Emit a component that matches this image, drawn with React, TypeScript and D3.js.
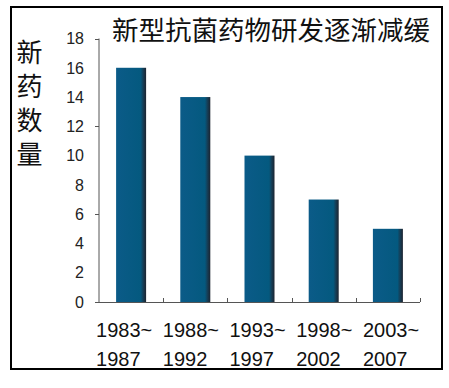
import React, { useEffect, useRef } from 'react';
import * as d3 from 'd3';

// chart data
const periodStarts: string[] = ['1983~', '1988~', '1993~', '1998~', '2003~'];
const periodEnds: string[] = ['1987', '1992', '1997', '2002', '2007'];
const newDrugs: number[] = [16, 14, 10, 7, 5];
const yTickLabels: number[] = [0, 2, 4, 6, 8, 10, 12, 14, 16, 18];
const yTickMarks: number[] = [0, 6, 12, 18];
const titleText = '新型抗菌药物研发逐渐减缓';
const yLabelChars: string[] = ['新', '药', '数', '量'];

const W = 449;
const H = 388;

const App: React.FC = () => {
  const svgRef = useRef<SVGSVGElement>(null);

  useEffect(() => {
    if (!svgRef.current) return;
    const svg = d3.select(svgRef.current);
    svg.selectAll('*').remove();

    const left = 99;
    const right = 420;
    const top = 38.5;
    const bottom = 302;

    const x = d3.scaleBand<number>()
      .domain(d3.range(newDrugs.length))
      .range([left, right])
      .paddingInner(0)
      .paddingOuter(0);

    const y = d3.scaleLinear().domain([0, 18]).range([bottom, top]);

    // bar gradient
    const defs = svg.append('defs');
    const grad = defs.append('linearGradient')
      .attr('id', 'barGrad')
      .attr('x1', '0%').attr('x2', '100%')
      .attr('y1', '0%').attr('y2', '0%');
    grad.append('stop').attr('offset', '0%').attr('stop-color', '#0b5b88');
    grad.append('stop').attr('offset', '82%').attr('stop-color', '#04597f');
    grad.append('stop').attr('offset', '90%').attr('stop-color', '#153f58');
    grad.append('stop').attr('offset', '100%').attr('stop-color', '#1c2430');

    // outer frame
    svg.append('rect')
      .attr('x', 11).attr('y', 7)
      .attr('width', 431).attr('height', 362)
      .attr('fill', 'white')
      .attr('stroke', '#000')
      .attr('stroke-width', 2);

    // title
    svg.append('text')
      .attr('x', 271)
      .attr('y', 40)
      .attr('text-anchor', 'middle')
      .attr('font-family', '"Noto Sans CJK SC", sans-serif')
      .attr('font-size', 26.5)
      .attr('font-weight', 400)
      .attr('fill', '#111')
      .text(titleText);

    // vertical y label
    svg.append('g')
      .selectAll('text')
      .data(yLabelChars)
      .join('text')
      .attr('x', 29.5)
      .attr('y', (_, i) => 50 + i * 34.2)
      .attr('text-anchor', 'middle')
      .attr('dominant-baseline', 'central')
      .attr('font-family', '"Noto Sans CJK SC", sans-serif')
      .attr('font-size', 26)
      .attr('fill', '#111')
      .text((d) => d);

    // bars
    const bw = 30;
    svg.append('g')
      .selectAll('rect')
      .data(newDrugs)
      .join('rect')
      .attr('x', (_, i) => (x(i) as number) + x.bandwidth() / 2 - bw / 2)
      .attr('y', (d) => y(d))
      .attr('width', bw)
      .attr('height', (d) => bottom - y(d))
      .attr('fill', 'url(#barGrad)');

    // y axis
    const axisColor = '#555';
    svg.append('line')
      .attr('x1', left).attr('x2', left)
      .attr('y1', top).attr('y2', bottom)
      .attr('stroke', axisColor).attr('stroke-width', 1);
    svg.append('g')
      .selectAll('line')
      .data(yTickMarks)
      .join('line')
      .attr('x1', left - 4).attr('x2', left)
      .attr('y1', (d) => Math.round(y(d)) + 0.5)
      .attr('y2', (d) => Math.round(y(d)) + 0.5)
      .attr('stroke', axisColor);
    svg.append('g')
      .selectAll('text')
      .data(yTickLabels)
      .join('text')
      .attr('x', 84)
      .attr('y', (d) => y(d))
      .attr('dy', '0.36em')
      .attr('text-anchor', 'end')
      .attr('font-family', '"Liberation Sans", Arial, sans-serif')
      .attr('font-size', 16)
      .attr('fill', '#222')
      .text((d) => d);

    // x axis
    svg.append('line')
      .attr('x1', left - 4).attr('x2', right)
      .attr('y1', bottom + 0.5).attr('y2', bottom + 0.5)
      .attr('stroke', axisColor).attr('stroke-width', 1);
    svg.append('g')
      .selectAll('line')
      .data(d3.range(1, newDrugs.length + 1))
      .join('line')
      .attr('x1', (i) => Math.round(left + i * x.step()) + 0.5)
      .attr('x2', (i) => Math.round(left + i * x.step()) + 0.5)
      .attr('y1', bottom - 4).attr('y2', bottom)
      .attr('stroke', axisColor);

    // x labels (two lines)
    const lab = svg.append('g')
      .attr('font-family', '"Liberation Sans", Arial, sans-serif')
      .attr('font-size', 20)
      .attr('fill', '#111');
    const labX = (i: number) => (x(i) as number) + x.bandwidth() / 2 - 35 + i * 2.5;
    lab.selectAll('text.l1')
      .data(periodStarts)
      .join('text')
      .attr('class', 'l1')
      .attr('x', (_, i) => labX(i))
      .attr('y', 337)
      .text((d) => d);
    lab.selectAll('text.l2')
      .data(periodEnds)
      .join('text')
      .attr('class', 'l2')
      .attr('x', (_, i) => labX(i))
      .attr('y', 366)
      .text((d) => d);
  }, []);

  return (
    <svg
      ref={svgRef}
      width={W}
      height={H}
      style={{ position: 'absolute', left: 0, top: 0, background: 'white' }}
    />
  );
};

export default App;
